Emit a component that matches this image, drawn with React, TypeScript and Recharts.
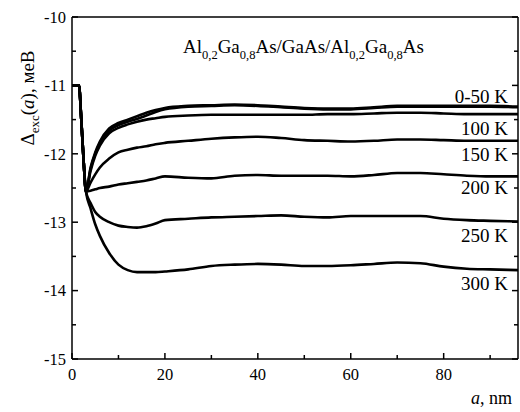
import React from 'react';
import { LineChart, Line, XAxis, YAxis, ReferenceLine } from 'recharts';

const FONT = "Times New Roman, Times, Liberation Serif, Tinos, Noto Serif, DejaVu Serif, serif";
const TXT = { fontFamily: FONT };

const xs = [0, 1.5, 2, 2.5, 3, 4, 5, 6, 8, 10, 12, 14, 16, 18, 20, 25, 30, 35, 40, 45, 50, 55, 60, 65, 70, 75, 80, 85, 90, 96];

const t0 = [-11.0, -11.0, -11.5, -12.1, -12.55, -12.2, -11.98, -11.82, -11.63, -11.55, -11.5, -11.45, -11.4, -11.36, -11.33, -11.3, -11.29, -11.28, -11.29, -11.31, -11.33, -11.34, -11.34, -11.32, -11.3, -11.3, -11.3, -11.3, -11.3, -11.31];
const t50 = [-11.0, -11.0, -11.5, -12.1, -12.55, -12.22, -12.0, -11.85, -11.66, -11.58, -11.53, -11.49, -11.44, -11.39, -11.35, -11.31, -11.3, -11.29, -11.3, -11.32, -11.34, -11.35, -11.35, -11.33, -11.31, -11.31, -11.31, -11.31, -11.31, -11.32];
const t100 = [-11.0, -11.0, -11.5, -12.1, -12.55, -12.25, -12.03, -11.88, -11.7, -11.62, -11.57, -11.53, -11.5, -11.48, -11.46, -11.44, -11.43, -11.43, -11.43, -11.43, -11.43, -11.42, -11.42, -11.41, -11.4, -11.4, -11.41, -11.42, -11.42, -11.42];
const t150 = [-11.0, -11.0, -11.5, -12.1, -12.55, -12.42, -12.3, -12.2, -12.07, -11.98, -11.94, -11.91, -11.89, -11.86, -11.84, -11.81, -11.78, -11.76, -11.75, -11.77, -11.8, -11.81, -11.82, -11.81, -11.79, -11.79, -11.8, -11.81, -11.81, -11.81];
const t200 = [-11.0, -11.0, -11.5, -12.1, -12.55, -12.54, -12.52, -12.5, -12.48, -12.45, -12.43, -12.41, -12.39, -12.36, -12.33, -12.35, -12.36, -12.32, -12.31, -12.32, -12.32, -12.32, -12.33, -12.31, -12.28, -12.28, -12.3, -12.32, -12.33, -12.33];
const t250 = [-11.0, -11.0, -11.5, -12.1, -12.55, -12.72, -12.85, -12.92, -13.0, -13.05, -13.07, -13.08, -13.06, -13.02, -12.97, -12.95, -12.93, -12.92, -12.91, -12.9, -12.92, -12.93, -12.91, -12.91, -12.91, -12.91, -12.95, -12.97, -12.98, -12.99];
const t300 = [-11.0, -11.0, -11.5, -12.1, -12.55, -12.8, -13.03, -13.2, -13.45, -13.62, -13.7, -13.73, -13.73, -13.73, -13.72, -13.69, -13.64, -13.62, -13.61, -13.62, -13.64, -13.64, -13.63, -13.61, -13.59, -13.6, -13.65, -13.68, -13.69, -13.7];

const seriesKeys = ['t0', 't50', 't100', 't150', 't200', 't250', 't300'];
const seriesVals = [t0, t50, t100, t150, t200, t250, t300];

const curveLabels = ['0-50 K', '100 K', '150 K', '200 K', '250 K', '300 K'];
const curveLabelY = [103, 135, 161, 194, 242, 290];

const yTicks = [-15, -14.5, -14, -13.5, -13, -12.5, -12, -11.5, -11, -10.5, -10];
const xTicks = [0, 10, 20, 30, 40, 50, 60, 70, 80, 90];

const data = xs.map((x, i) => {
  const row: any = { x };
  seriesKeys.forEach((k, j) => { row[k] = seriesVals[j][i]; });
  return row;
});

const isMajorY = (v: number) => Math.abs(v - Math.round(v)) < 1e-6;

const LeftTick = (p: any) => {
  const v = p.payload.value;
  const major = isMajorY(v);
  return (
    <g>
      <line x1={p.x} x2={p.x + (major ? 6 : 4)} y1={p.y} y2={p.y} stroke="#000" strokeWidth={1.5} />
      {major && (
        <text x={p.x - 6} y={p.y} dy="0.35em" textAnchor="end" fontSize={16.5} style={TXT} fill="#000">
          {String(v)}
        </text>
      )}
    </g>
  );
};

const RightTick = (p: any) => {
  const v = p.payload.value;
  const major = isMajorY(v);
  return <line x1={p.x - (major ? 6 : 4)} x2={p.x} y1={p.y} y2={p.y} stroke="#000" strokeWidth={1.5} />;
};

const BottomTick = (p: any) => {
  const v = p.payload.value;
  const major = v % 20 === 0;
  return (
    <g>
      <line x1={p.x} x2={p.x} y1={p.y} y2={p.y - (major ? 6 : 4)} stroke="#000" strokeWidth={1.5} />
      {major && (
        <text x={p.x} y={p.y + 21} textAnchor="middle" fontSize={16.5} style={TXT} fill="#000">
          {String(v)}
        </text>
      )}
    </g>
  );
};

export default function App() {
  return (
    <div style={{ position: 'absolute', left: 0, top: 0, width: 520, height: 412, background: '#fff', fontFamily: FONT }}>
      <LineChart width={520} height={412} data={data} margin={{ top: 17, right: 1, bottom: 0, left: 0 }}>
        <XAxis
          dataKey="x"
          type="number"
          domain={[0, 96]}
          ticks={xTicks}
          interval={0}
          tickSize={0}
          tickMargin={0}
          tickLine={false}
          tick={BottomTick}
          height={53}
          axisLine={{ stroke: '#000', strokeWidth: 1.5 }}
          allowDataOverflow
        />
        <YAxis
          yAxisId="l"
          type="number"
          domain={[-15, -10]}
          ticks={yTicks}
          interval={0}
          tickSize={0}
          tickMargin={0}
          tickLine={false}
          tick={LeftTick}
          width={72}
          axisLine={{ stroke: '#000', strokeWidth: 1.5 }}
          allowDataOverflow
        />
        <YAxis
          yAxisId="r"
          orientation="right"
          type="number"
          domain={[-15, -10]}
          ticks={yTicks}
          interval={0}
          tickSize={0}
          tickMargin={0}
          tickLine={false}
          tick={RightTick}
          width={1}
          axisLine={{ stroke: '#000', strokeWidth: 1.5 }}
          allowDataOverflow
        />
        <ReferenceLine yAxisId="l" y={-10} stroke="#000" strokeWidth={1.5} />
        {seriesKeys.map((k) => (
          <Line
            key={k}
            yAxisId="l"
            dataKey={k}
            type="monotone"
            stroke="#000"
            strokeWidth={2.6}
            dot={false}
            isAnimationActive={false}
          />
        ))}
      </LineChart>
      <svg width={520} height={412} style={{ position: 'absolute', left: 0, top: 0, pointerEvents: 'none', fontFamily: FONT }}>
        <text x={183} y={53} fontSize={19} style={TXT} fill="#000">
          Al<tspan fontSize={12.5} dy={6}>0,2</tspan>
          <tspan fontSize={19} dy={-6}>Ga</tspan>
          <tspan fontSize={12.5} dy={6}>0,8</tspan>
          <tspan fontSize={19} dy={-6}>As/GaAs/Al</tspan>
          <tspan fontSize={12.5} dy={6}>0,2</tspan>
          <tspan fontSize={19} dy={-6}>Ga</tspan>
          <tspan fontSize={12.5} dy={6}>0,8</tspan>
          <tspan fontSize={19} dy={-6}>As</tspan>
        </text>
        {curveLabels.map((t, i) => (
          <text key={t} x={508} y={curveLabelY[i]} textAnchor="end" fontSize={19} style={TXT} fill="#000">
            {t}
          </text>
        ))}
        <text x={512} y={404} textAnchor="end" fontSize={18} style={TXT} fill="#000">
          <tspan fontStyle="italic">a</tspan>, nm
        </text>
        <text transform="translate(34,98) rotate(-90)" textAnchor="middle" fontSize={19} style={TXT} fill="#000">
          Δ<tspan fontSize={13} dy={5}>exc</tspan>
          <tspan fontSize={19} dy={-5}>(</tspan>
          <tspan fontStyle="italic">a</tspan>
          <tspan>), меВ</tspan>
        </text>
      </svg>
    </div>
  );
}
